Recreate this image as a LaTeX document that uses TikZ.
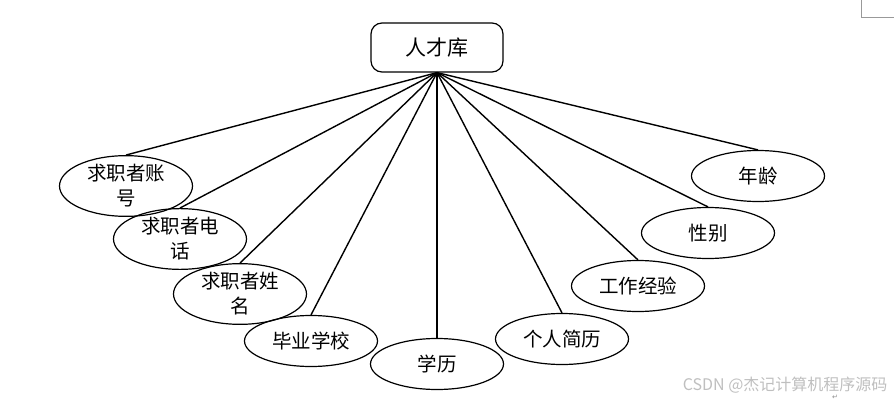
\documentclass[tikz,border=0pt]{standalone}
\usepackage{fontspec}
\setmainfont{Noto Sans CJK SC}
\newfontfamily\symfont{DejaVu Sans}
\usetikzlibrary{shapes.geometric}
\begin{document}
\begin{tikzpicture}[x=1pt,y=-1pt,
  attr/.style={draw,ellipse,line width=1.2pt,minimum width=133pt,minimum height=51pt,inner sep=0pt,align=center,font=\fontsize{19.5}{25}\selectfont},
  rootbox/.style={draw,rounded corners=11pt,line width=1.2pt,minimum width=132pt,minimum height=49pt,font=\fontsize{21}{24}\selectfont},
  link/.style={line width=1.4pt}]
\useasboundingbox (0,0) rectangle (894,401);
\node[rootbox] (root) at (437,47.5) {人才库};
\node[attr] (a1) at (126,186) {求职者账\\号};
\node[attr] (a2) at (180,239) {求职者电\\话};
\node[attr] (a3) at (240,294) {求职者姓\\名};
\node[attr] (a4) at (311,341) {毕业学校};
\node[attr] (a5) at (437,364) {学历};
\node[attr] (a6) at (562,339) {个人简历};
\node[attr] (a7) at (638,286) {工作经验};
\node[attr] (a8) at (708,233) {性别};
\node[attr] (a9) at (758,176) {年龄};
\foreach \n in {a1,a2,a3,a4,a5,a6,a7,a8,a9}
  \draw[link] (root.south) -- (\n.north);
\node[text=black!25,font=\fontsize{16}{18}\selectfont,anchor=east] (wm) at (891,385) {CSDN @杰记计算机程序源码};
\node[text=black!45,font=\symfont\fontsize{7}{8}\selectfont] (pm) at (835,397) {↵};
\coordinate (c1) at (861,0);
\coordinate (c2) at (861,17);
\coordinate (c3) at (894,17);
\draw[black!40,line width=0.8pt] (c1) -- (c2) -- (c3);
\end{tikzpicture}
\end{document}
